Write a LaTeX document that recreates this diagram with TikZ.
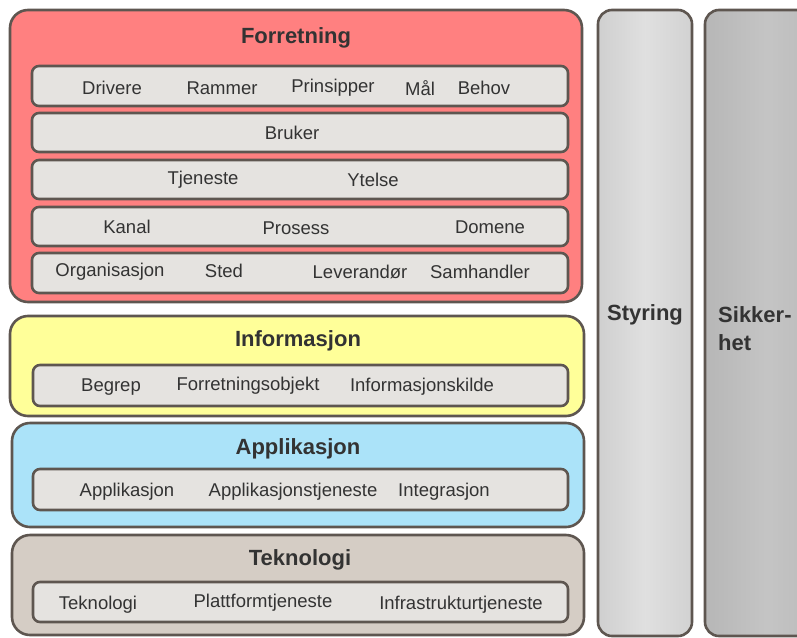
\documentclass[tikz,border=0pt]{standalone}
\usepackage{fontspec}
\setmainfont{Liberation Sans}
\definecolor{bordercol}{HTML}{5E5650}
\definecolor{txtcol}{HTML}{333333}
\definecolor{forrcol}{HTML}{FF8080}
\definecolor{infocol}{HTML}{FFFF99}
\definecolor{appcol}{HTML}{ABE3F9}
\definecolor{tekcol}{HTML}{D5CDC5}
\definecolor{rowcol}{HTML}{E5E3E0}
\definecolor{stycol}{HTML}{D8D8D8}
\definecolor{sikcol}{HTML}{BEBEBE}
\tikzset{
  layer/.style={draw=bordercol, line width=2.6pt, rounded corners=18pt},
  rowbox/.style={draw=bordercol, line width=2.6pt, rounded corners=7pt, fill=rowcol},
  title/.style={font=\fontsize{22}{26}\selectfont\bfseries, text=txtcol, inner sep=0pt},
  item/.style={font=\fontsize{18.5}{22}\selectfont, text=txtcol, inner sep=0pt},
}
\begin{document}
\begin{tikzpicture}[x=1pt,y=-1pt]
\useasboundingbox (0,0) rectangle (797,637);
\clip (0,0) rectangle (797,637);
\fill[white] (0,0) rectangle (797,637);
% side panels
\draw[layer, rounded corners=14pt, left color=stycol!96!black, right color=stycol!97!black, middle color=stycol!80!white] (598,10) rectangle (692,636);
\draw[layer, rounded corners=14pt, left color=sikcol!96!black, right color=sikcol!97!black, middle color=sikcol!90!white] (705,10) rectangle (830,636);
\node[title, anchor=base] (sty) at (645,320) {Styring};
\node[title, anchor=base west, align=left] (sik) at (718,322) {Sikker-};
\node[title, anchor=base west] (het) at (718,350) {het};
% Forretning
\draw[layer, fill=forrcol] (10,10) rectangle (582,302);
\node[title] (forr) at (296,38) {Forretning};
\draw[rowbox] (32,66) rectangle (568,106);
\draw[rowbox] (32,113) rectangle (568,152);
\draw[rowbox] (32,160) rectangle (568,199);
\draw[rowbox] (32,207) rectangle (568,246);
\draw[rowbox] (32,253) rectangle (568,293);
\node[item] (drivere) at (112,88) {Drivere};
\node[item] (rammer) at (222,88) {Rammer};
\node[item] (prinsipper) at (333,88) {Prinsipper};
\node[item] (maal) at (420,88) {Mål};
\node[item] (behov) at (484,88) {Behov};
\node[item] (bruker) at (292,133) {Bruker};
\node[item] (tjeneste) at (203,180) {Tjeneste};
\node[item] (ytelse) at (373,180) {Ytelse};
\node[item] (kanal) at (127,227) {Kanal};
\node[item] (prosess) at (296,228) {Prosess};
\node[item] (domene) at (490,227) {Domene};
\node[item] (org) at (110,272) {Organisasjon};
\node[item] (sted) at (224,271) {Sted};
\node[item] (lev) at (360,272) {Leverandør};
\node[item] (samh) at (480,272) {Samhandler};
% Informasjon
\draw[layer, fill=infocol] (10,316) rectangle (584,416);
\node[title] (info) at (298,341) {Informasjon};
\draw[rowbox] (33,365) rectangle (568,406);
\node[item] (begrep) at (111,387) {Begrep};
\node[item] (fobj) at (248,386) {Forretningsobjekt};
\node[item] (ikilde) at (422,387) {Informasjonskilde};
% Applikasjon
\draw[layer, fill=appcol] (12,423) rectangle (584,527);
\node[title] (app) at (298,449) {Applikasjon};
\draw[rowbox] (33,469) rectangle (568,510);
\node[item] (appl) at (127,492) {Applikasjon};
\node[item] (appt) at (293,492) {Applikasjonstjeneste};
\node[item] (integ) at (444,492) {Integrasjon};
% Teknologi
\draw[layer, fill=tekcol] (12,535) rectangle (584,635);
\node[title] (tek) at (300,560) {Teknologi};
\draw[rowbox] (33,582) rectangle (568,622);
\node[item] (tekn) at (98,605) {Teknologi};
\node[item] (platt) at (263,603) {Plattformtjeneste};
\node[item] (infra) at (461,605) {Infrastrukturtjeneste};
\end{tikzpicture}
\end{document}
